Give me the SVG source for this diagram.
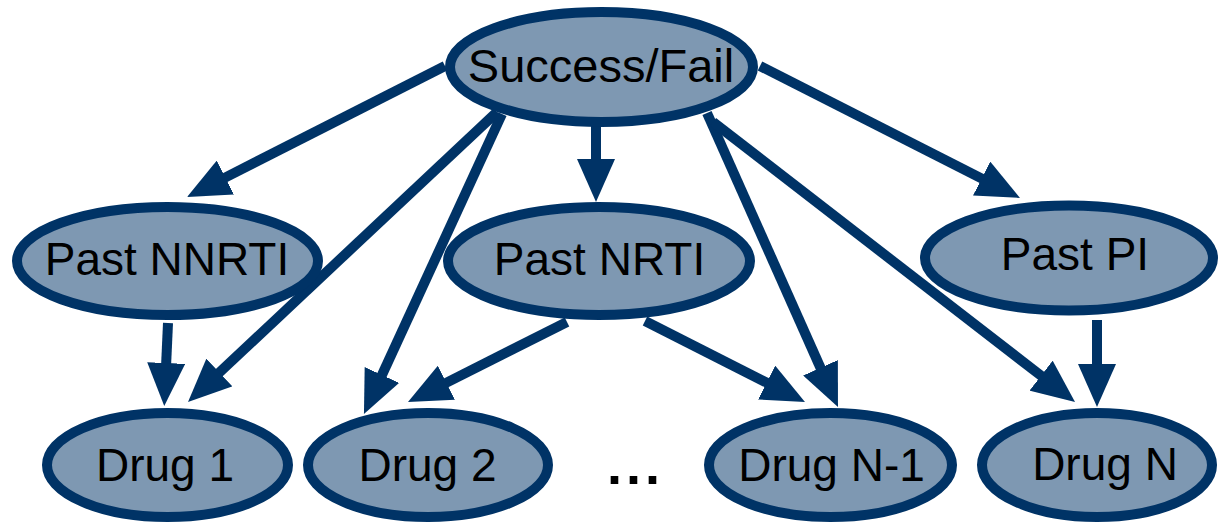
<svg xmlns="http://www.w3.org/2000/svg" width="1219" height="525" viewBox="0 0 1219 525">
  <style>
    .node ellipse { fill: #7e98b2; stroke: #003366; stroke-width: 10; }
    .node text { font-family: "Liberation Sans", Arial, sans-serif; font-size: 46px; fill: #000; text-anchor: middle; }
    .edge { stroke: #003366; stroke-width: 10; fill: none; marker-end: url(#head); }
    .dots { font-family: "Liberation Sans", Arial, sans-serif; font-size: 54px; font-weight: bold; fill: #000; letter-spacing: 4px; }
  </style>
  <defs>
    <marker id="head" viewBox="0 -19 43 38" markerWidth="43" markerHeight="38" refX="2" refY="0" markerUnits="userSpaceOnUse" orient="auto">
      <path d="M0,-19 L43,0 L0,19 z" fill="#003366"/>
    </marker>
  </defs>

  <rect width="1219" height="525" fill="#fff"/>

  <g id="connectors">
    <line class="edge" x1="445" y1="66" x2="223.6" y2="178.4"/>
    <line class="edge" x1="497" y1="112" x2="217.9" y2="373.9"/>
    <line class="edge" x1="168" y1="323" x2="166.1" y2="365"/>
    <line class="edge" x1="502" y1="114" x2="381.1" y2="376.8"/>
    <line class="edge" x1="596" y1="124" x2="596" y2="161"/>
    <line class="edge" x1="567" y1="322" x2="444.6" y2="383.6"/>
    <line class="edge" x1="645" y1="321" x2="768.4" y2="383.5"/>
    <line class="edge" x1="707" y1="113" x2="821.3" y2="369.6"/>
    <line class="edge" x1="713" y1="122" x2="1042.6" y2="376.9"/>
    <line class="edge" x1="760" y1="66" x2="983.4" y2="179.4"/>
    <line class="edge" x1="1097" y1="320" x2="1097" y2="366"/>
  </g>

  <g id="success-fail" class="node">
    <ellipse cx="601.5" cy="67" rx="151.5" ry="55"/>
    <text x="601" y="82" style="font-size:47px">Success/Fail</text>
  </g>
  <g id="past-nnrti" class="node">
    <ellipse cx="167.5" cy="261" rx="150.5" ry="54"/>
    <text x="167" y="275">Past NNRTI</text>
  </g>
  <g id="past-nrti" class="node">
    <ellipse cx="599" cy="261" rx="151" ry="54"/>
    <text x="599.5" y="275">Past NRTI</text>
  </g>
  <g id="past-pi" class="node">
    <ellipse cx="1069" cy="258" rx="144" ry="52.5"/>
    <text x="1075" y="270">Past PI</text>
  </g>
  <g id="drug-1" class="node">
    <ellipse cx="167.5" cy="465" rx="120.5" ry="52"/>
    <text x="165" y="481">Drug 1</text>
  </g>
  <g id="drug-2" class="node">
    <ellipse cx="428" cy="465" rx="120" ry="52"/>
    <text x="427.5" y="481">Drug 2</text>
  </g>
  <g id="drug-n-1" class="node">
    <ellipse cx="830.5" cy="465" rx="121.5" ry="52"/>
    <text x="831.5" y="481">Drug N-1</text>
  </g>
  <g id="drug-n" class="node">
    <ellipse cx="1097" cy="465" rx="115" ry="52"/>
    <text x="1105" y="480">Drug N</text>
  </g>

  <text class="dots" x="607" y="484">...</text>
</svg>
